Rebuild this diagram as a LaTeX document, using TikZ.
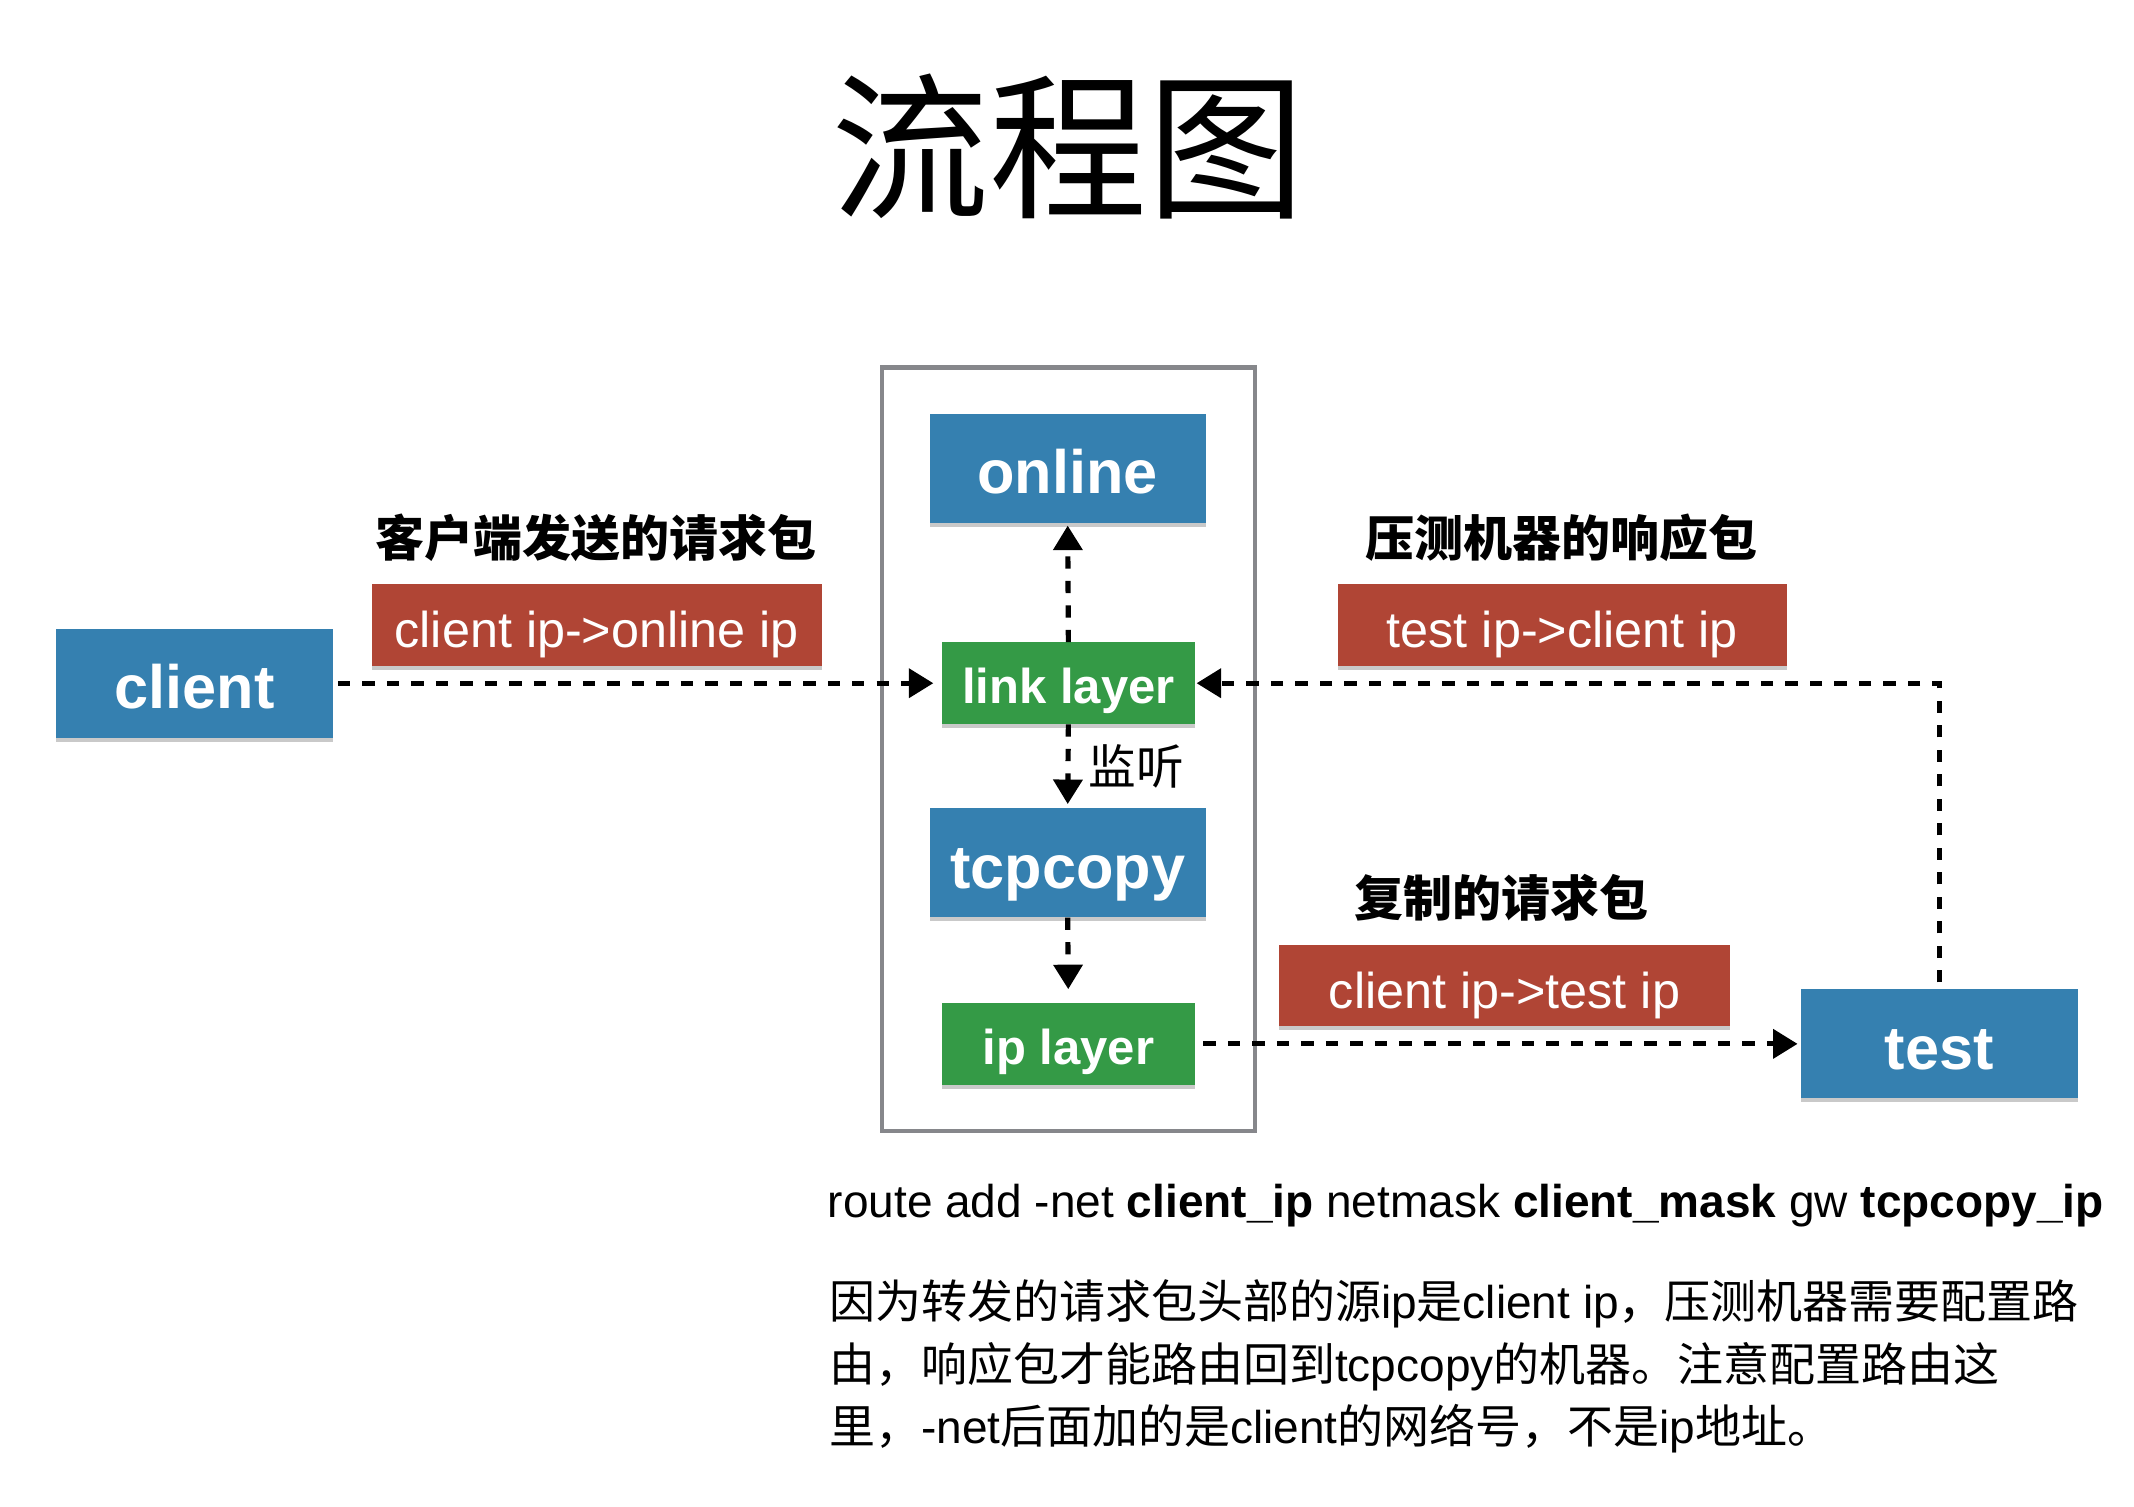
\documentclass[tikz,border=0pt]{standalone}
\usepackage{fontspec}
\setmainfont{Liberation Sans}
\newfontfamily\cjk{Noto Sans CJK SC}
\usetikzlibrary{arrows.meta,shadows}
\definecolor{boxblue}{RGB}{53,128,176}
\definecolor{boxred}{RGB}{176,69,53}
\definecolor{boxgreen}{RGB}{52,154,70}
\definecolor{framegray}{RGB}{134,135,139}
\newcommand\zh[1]{{\cjk #1}}
\newcommand\fs[1]{\fontsize{#1}{#1}\selectfont}
\begin{document}
\begin{tikzpicture}[x=1pt,y=-1pt,
  sh/.style={drop shadow={shadow xshift=0pt,shadow yshift=-3pt,opacity=0.35,fill=black!60}},
  bluebox/.style={sh,fill=boxblue,text=white,inner sep=0pt,minimum width=204pt,minimum height=80pt,font=\bfseries\fs{45},text height=37pt,text depth=0pt},
  greenbox/.style={sh,fill=boxgreen,text=white,inner sep=0pt,minimum width=186pt,minimum height=60pt,font=\bfseries\fs{36},text height=30pt,text depth=0pt},
  redbox/.style={sh,fill=boxred,text=white,inner sep=0pt,minimum width=331pt,minimum height=60pt,font=\fs{37},text height=34pt,text depth=0pt},
  heading/.style={inner sep=0pt,font=\cjk\bfseries\fs{36}},
  conn/.style={line width=3.8pt,dash pattern=on 9pt off 9pt,-{Triangle[length=18pt,width=21pt]}},
  para/.style={anchor=west,inner sep=0pt,font=\fs{33.8}}
]
\useasboundingbox (0,0) rectangle (1568,1107);
\fill[white] (0,0) rectangle (1568,1107);

\node[inner sep=0pt,font=\cjk\fs{116}] (title) at (785,108) {流程图};

\draw[framegray,line width=3pt] (648,270) rectangle (922,831);

\node[bluebox] (client) at (143,502) {client};
\node[bluebox,minimum width=203pt] (online) at (784.5,344) {online};
\node[greenbox] (link) at (785,502) {link layer};
\node[bluebox,minimum width=203pt] (tcpcopy) at (784.5,634) {tcpcopy};
\node[greenbox] (iplayer) at (785,767) {ip layer};
\node[bluebox] (test) at (1425,767) {test};

\node[redbox] (r1) at (438.5,459) {client ip->online ip};
\node[redbox,minimum width=330pt] (r2) at (1148,459) {test ip->client ip};
\node[redbox] (r3) at (1105.5,724) {client ip->test ip};

\node[heading] (h1) at (438,395) {客户端发送的请求包};
\node[heading] (h2) at (1147,395) {压测机器的响应包};
\node[heading] (h3) at (1103,660) {复制的请求包};

\node[inner sep=0pt,font=\cjk\fs{35}] (listen) at (835,563) {监听};

\draw[conn,shorten <=3pt,shorten >=6pt] (client.east) -- (link.west);
\draw[conn,shorten >=2pt] (link.north) -- (online.south);
\draw[conn,shorten >=3pt] (link.south) -- (tcpcopy.north);
\draw[conn,shorten >=10pt] (tcpcopy.south) -- (iplayer.north);
\draw[conn,shorten <=6pt,shorten >=2pt] (iplayer.east) -- (test.west);
\draw[conn,shorten <=5pt,shorten >=1pt] (test.north) |- (link.east);

\node[para] (route) at (608,886) {route add -net \textbf{client\_ip} netmask \textbf{client\_mask} gw \textbf{tcpcopy\_ip}};
\node[para] (p1) at (609,958) {\zh{因为转发的请求包头部的源}ip\zh{是}client ip\zh{，压测机器需要配置路}};
\node[para] (p2) at (609,1004) {\zh{由，响应包才能路由回到}tcpcopy\zh{的机器。注意配置路由这}};
\node[para] (p3) at (609,1050) {\zh{里，}-net\zh{后面加的是}client\zh{的网络号，不是}ip\zh{地址。}};
\end{tikzpicture}
\end{document}
